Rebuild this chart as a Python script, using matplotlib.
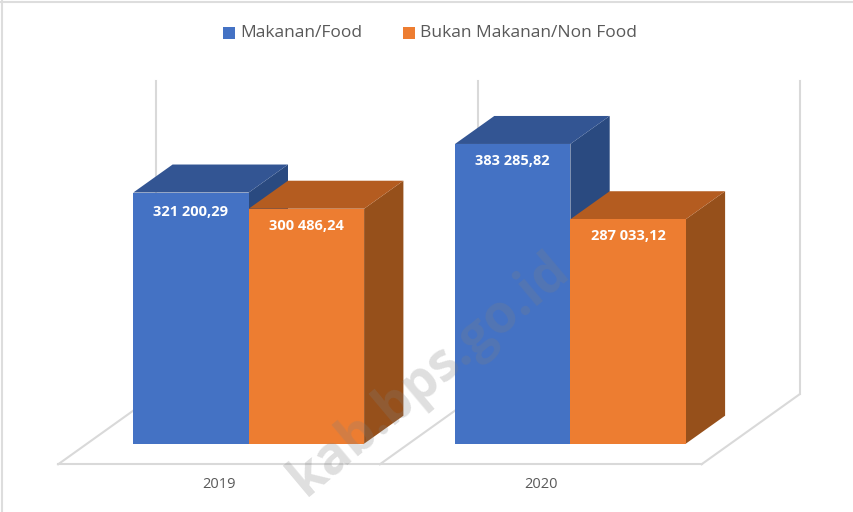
import matplotlib
matplotlib.use('Agg')
import matplotlib.pyplot as plt
from matplotlib.patches import Polygon, Rectangle

# data
years = ['2019', '2020']
food = [321200.29, 383285.82]
non_food = [300486.24, 287033.12]
food_labels = ['321 200,29', '383 285,82']
non_food_labels = ['300 486,24', '287 033,12']
legend_names = ['Makanan/Food', 'Bukan Makanan/Non Food']
watermark = 'kab.bps.go.id'
axis_max = 400000

# picture is 854x512, scales worked out from the bars
W, H = 854, 512
px_x = 321.7      # pixels per category
px_y = 0.000782   # pixels per unit
x0_px = 248.7     # where category 0 sits
y0_px = 443.7     # where value 0 sits

blue, blue_top, blue_side = '#4472C4', '#335593', '#2A4A80'
orange, orange_top, orange_side = '#ED7D31', '#B45C20', '#96501B'
grid = '#D9D9D9'
text_col = '#595959'

fig = plt.figure(figsize=(W / 100, H / 100), dpi=100)
ax = fig.add_axes([0, 0, 1, 1])
ax.set_xlim(-x0_px / px_x, (W - x0_px) / px_x)
ax.set_ylim(-(H - y0_px) / px_y, y0_px / px_y)
ax.axis('off')


def dx(p):
    return p / px_x


def dy(p):
    return p / px_y


width = dx(115.4)
depth_x = dx(39.3)
depth_y = dy(28)

# chart border
ax.plot([dx(2) + ax.get_xlim()[0]] * 2, ax.get_ylim(), color='#DDDDDD', lw=1.5)
ax.axhline(ax.get_ylim()[1] - dy(2), color='#DDDDDD', lw=1.5)

# floor and walls
front_y = -dy(20.6)
back_y = front_y + dy(70)
front_x = [i - 0.5 - dx(29.7) for i in range(3)]
back_x = [x + dx(98) for x in front_x]
for i in range(3):
    ax.plot([front_x[i], back_x[i]], [front_y, back_y], color=grid, lw=1.5, zorder=1)
    ax.plot([back_x[i], back_x[i]], [back_y, back_y + axis_max], color=grid, lw=1.5, zorder=1)
ax.plot([front_x[0], front_x[2]], [front_y, front_y], color=grid, lw=1.5, zorder=1)


def bar3d(x, val, front, top, side):
    # x is the left edge of the front face
    ax.add_patch(Polygon([(x + width, 0), (x + width + depth_x, depth_y),
                          (x + width + depth_x, val + depth_y), (x + width, val)],
                         color=side, lw=0, zorder=3))
    ax.add_patch(Polygon([(x, val), (x + depth_x, val + depth_y),
                          (x + width + depth_x, val + depth_y), (x + width, val)],
                         color=top, lw=0, zorder=3))
    ax.bar(x, val, width, align='edge', color=front, zorder=3)


# the blue one first so the orange top overlaps its side
for i in range(len(years)):
    bar3d(i - width, food[i], blue, blue_top, blue_side)
    bar3d(i, non_food[i], orange, orange_top, orange_side)
    ax.text(i - width / 2, food[i] - dy([19, 17][i]), food_labels[i], color='white',
            fontsize=10.5, fontweight='bold', family='Open Sans', ha='center', va='center', zorder=5)
    ax.text(i + width / 2, non_food[i] - dy(17), non_food_labels[i], color='white',
            fontsize=10.5, fontweight='bold', family='Open Sans', ha='center', va='center', zorder=5)
    ax.text(front_x[i] + 0.5, -dy(41.3), years[i], color=text_col, fontsize=10.5,
            family='Open Sans', ha='center', va='center', zorder=5)

# legend
leg_y = ax.get_ylim()[1] - dy(33)
for start, name, col in zip([223, 403], legend_names, [blue, orange]):
    lx = ax.get_xlim()[0] + dx(start)
    ax.add_patch(Rectangle((lx, leg_y - dy(6)), dx(12), dy(12), color=col, lw=0))
    ax.text(lx + dx(17), leg_y, name, color=text_col, fontsize=12.5, family='Open Sans',
            ha='left', va='center')

# watermark
ax.text(ax.get_xlim()[0] + dx(430), ax.get_ylim()[1] - dy(375), watermark, color='#808080', alpha=0.25,
        fontsize=38, fontweight='bold', family='Open Sans', rotation=40,
        rotation_mode='anchor', ha='center', va='center', zorder=6)

fig.savefig('out.png', dpi=100)
